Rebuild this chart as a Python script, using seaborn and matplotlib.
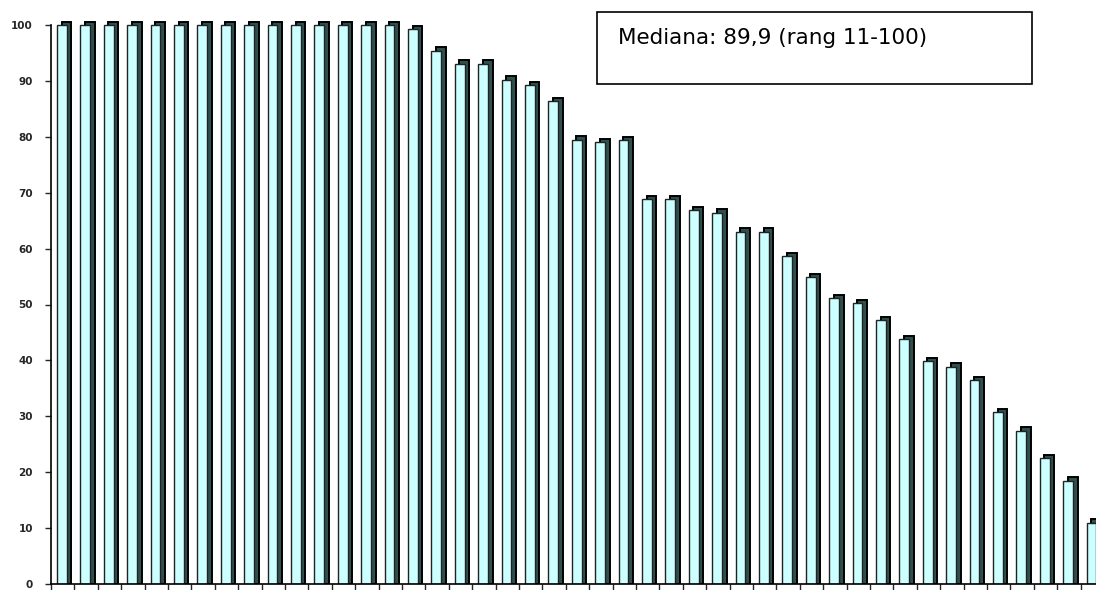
import matplotlib
matplotlib.use("Agg")
import matplotlib.pyplot as plt
import matplotlib.patches as mpatches
import seaborn as sns
import numpy as np
import pandas as pd

# valors ordenats de major a menor (45 casos)
valors = [100, 100, 100, 100, 100, 100, 100, 100, 100, 100,
          100, 100, 100, 100, 100, 99.3, 95.4, 93.1, 93.1, 90.2,
          89.2, 86.4, 79.5, 79.0, 79.4, 68.8, 68.8, 66.9, 66.4, 63.0,
          63.0, 58.7, 54.9, 51.1, 50.2, 47.2, 43.8, 39.9, 38.9, 36.5,
          30.7, 27.4, 22.5, 18.5, 11.0]
casos = [str(i + 1) for i in range(len(valors))]
y_ticks = [0, 10, 20, 30, 40, 50, 60, 70, 80, 90, 100]
text_mediana = "Mediana: 89,9 (rang 11-100)"

df = pd.DataFrame({"cas": casos, "valor": valors})

sns.set_style("white")
W, H = 1096, 590
fig = plt.figure(figsize=(W / 100, H / 100), dpi=100)

# eix: 0 a y=584 px, 100 a y=25 px, x comença a 51 px, 23.4 px per cas
px_unit = (584 - 25) / 100
ymax = 102
ax = fig.add_axes([51 / W, 6 / H, 45 * 23.4 / W, ymax * px_unit / H])

n = len(valors)
xs = np.arange(n)
ample = 0.42
# ombra (costat fosc + tapa) darrere de cada barra
ax.bar(xs + 0.2, np.array(valors) + 0.6, width=ample, color="#2f4f4f",
       edgecolor="black", linewidth=1.4, zorder=0.5)
sns.barplot(data=df, x="cas", y="valor", color="#ccffff", saturation=1,
            width=ample, edgecolor="#222222", linewidth=1.0, ax=ax, zorder=1)

off = 0.034
ax.set_xlim(-0.5 + off, n - 0.5 + off)
ax.set_ylim(0, ymax)
ax.set_xticks(np.arange(n + 1) - 0.5 + off)
ax.set_xticklabels([])
ax.set_yticks(y_ticks)
ax.set_yticklabels([str(t) for t in y_ticks], fontsize=7.5, fontweight="bold")
ax.tick_params(axis="y", direction="out", length=4, width=1, pad=9, left=True)
ax.tick_params(axis="x", direction="out", length=4.5, width=1, bottom=True)
ax.set_xlabel("")
ax.set_ylabel("")
for s in ["top", "right"]:
    ax.spines[s].set_visible(False)
for s in ["left", "bottom"]:
    ax.spines[s].set_color("black")
    ax.spines[s].set_linewidth(1.2)
ax.spines["left"].set_bounds(0, 100)
ax.grid(False)

# quadre de text
rect = mpatches.Rectangle((597 / W, 1 - 84 / H), (1032 - 597) / W, (84 - 12) / H,
                          transform=fig.transFigure, fill=False,
                          edgecolor="black", linewidth=1.2)
fig.patches.append(rect)
fig.text(618 / W, 1 - 38 / H, text_mediana, fontsize=15.5, va="center", ha="left",
         color="black", family="DejaVu Sans")

fig.savefig("out.png", dpi=100)
